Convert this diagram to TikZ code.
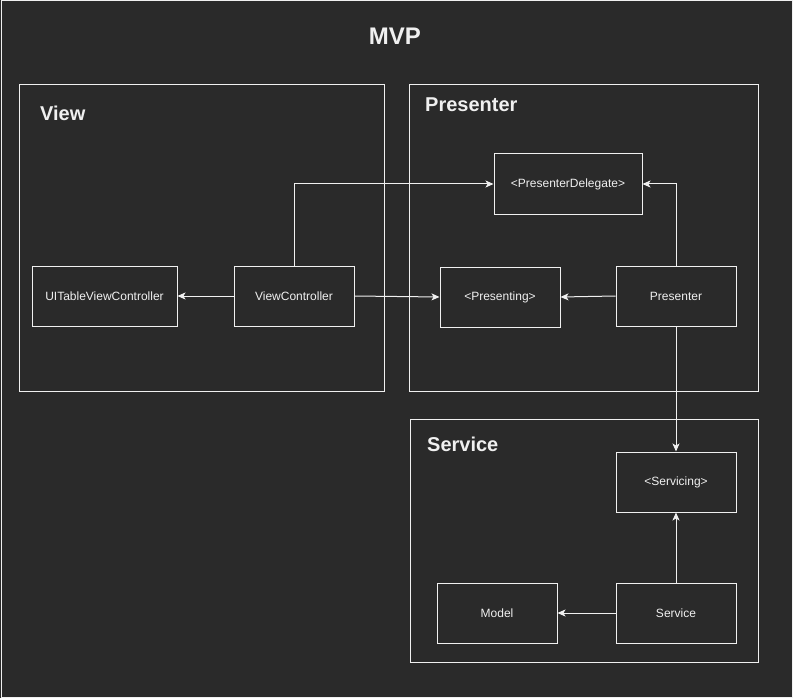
\documentclass[tikz,border=0pt]{standalone}
\usepackage{fontspec}
\setmainfont{Liberation Sans}
\usetikzlibrary{arrows.meta}
\definecolor{bg}{HTML}{2A2A2A}
\definecolor{fg}{HTML}{F0F0F0}
\begin{document}
\begin{tikzpicture}[x=1pt,y=-1pt,
  box/.style={draw=fg,line width=1pt,minimum width=120pt,minimum height=60pt,text=fg,font=\fontsize{12}{14}\selectfont,inner sep=0pt},
  group/.style={draw=fg,line width=1pt},
  grouplabel/.style={anchor=west,text=fg,font=\bfseries\fontsize{20}{22}\selectfont,inner sep=0pt},
  conn/.style={draw=fg,line width=1pt,-{Stealth[length=8pt,width=7pt,inset=2pt]}}]
\fill[bg] (0,0) rectangle (793,698);
\useasboundingbox (0,0) rectangle (793,698);
\draw[fg,line width=1pt] (1,1) rectangle (792,697);
\node[text=fg,font=\bfseries\fontsize{24}{26}\selectfont,inner sep=0pt] (title) at (395,36) {MVP};
% groups
\draw[group] (19,85) rectangle (384,391);
\node[grouplabel] (lview) at (40,113) {View};
\draw[group] (409,85) rectangle (758,391);
\node[grouplabel] (lpres) at (425,105) {Presenter};
\draw[group] (410,419) rectangle (758,662);
\node[grouplabel] (lserv) at (427,444) {Service};
% nodes
\node[box,minimum width=145pt] (uitv) at (104.5,296) {UITableViewController};
\node[box] (vc) at (294,296) {ViewController};
\node[box,minimum width=148pt] (pd) at (568,184) {<PresenterDelegate>};
\node[box] (ping) at (500,297) {<Presenting>};
\node[box] (pres) at (676,296) {Presenter};
\node[box] (sing) at (676,482) {<Servicing>};
\node[box] (model) at (497,613) {Model};
\node[box] (serv) at (676,613) {Service};
% connectors
\draw[conn] (vc.west) -- (uitv.east);
\draw[conn] (vc.north) |- (pd.west);
\draw[conn] (vc.east) -- (ping.west);
\draw[conn] (pres.west) -- (ping.east);
\draw[conn] (pres.north) |- (pd.east);
\draw[conn] (pres.south) -- (sing.north);
\draw[conn] (serv.north) -- (sing.south);
\draw[conn] (serv.west) -- (model.east);
\end{tikzpicture}
\end{document}
